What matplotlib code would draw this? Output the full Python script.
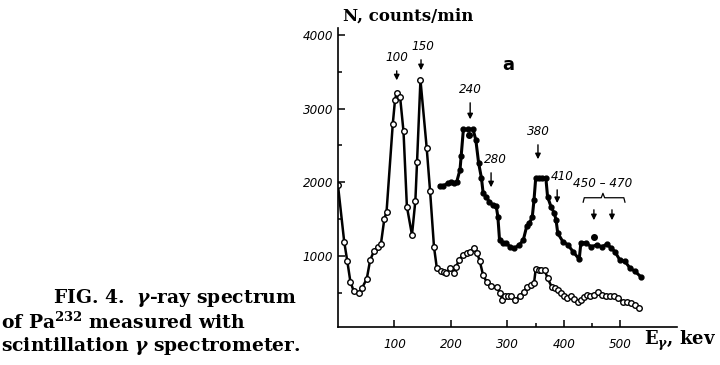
import numpy as np
import matplotlib.pyplot as plt
from matplotlib.ticker import FixedLocator

plt.rcParams['mathtext.fontset'] = 'custom'
plt.rcParams['mathtext.rm'] = 'DejaVu Serif:bold'
plt.rcParams['mathtext.it'] = 'DejaVu Serif:bold:italic'
plt.rcParams['mathtext.bf'] = 'DejaVu Serif:bold'

# lower curve (open circles), E in keV, N in counts/min
e_open = [0, 11, 16.5, 22, 28, 37, 43, 51, 57, 64, 70, 76, 82, 86,
          97, 101, 104, 110, 116, 122, 131, 137, 140, 146, 157, 163, 170,
          175, 182, 188, 192, 199, 205, 209, 214, 221, 228, 234, 240, 246,
          251, 257, 264, 270, 281, 287, 291, 296, 301, 307, 314, 322, 329,
          335, 341, 347, 350, 355, 360, 366, 371, 378, 384, 390, 395, 400,
          406, 412, 418, 424, 430, 435, 440, 446, 453, 461, 467, 474, 481,
          488, 496, 504, 511, 518, 526, 533]
n_open = [1960, 1195, 930, 650, 520, 500, 570, 690, 945, 1070, 1120, 1160, 1500, 1600,
          2790, 3120, 3215, 3155, 2690, 1670, 1285, 1750, 2280, 3390, 2470, 1885, 1120,
          835, 800, 785, 775, 835, 775, 845, 945, 1015, 1035, 1060, 1110, 1045,
          930, 735, 640, 590, 575, 495, 405, 455, 460, 450, 405, 460, 515,
          575, 605, 630, 820, 815, 810, 805, 700, 585, 560, 540, 495, 455,
          425, 460, 415, 380, 405, 440, 470, 450, 470, 515, 470, 455, 450,
          455, 425, 380, 380, 365, 335, 290]

# upper curve (filled dots)
e_fill = [180, 186, 194, 200, 205, 210, 216, 218, 222, 230, 239, 244, 249, 254,
          257, 262, 268, 274, 280, 283, 286, 292, 298, 305, 312, 321, 328,
          334, 339, 344, 347, 350, 356, 362, 368, 371, 377, 383, 386, 389,
          398, 407, 416, 427, 430, 439, 448, 458, 467, 476, 484, 490, 499,
          508, 517, 526, 537]
n_fill = [1950, 1950, 1985, 2000, 1985, 2000, 2170, 2350, 2720, 2720, 2720, 2575, 2260, 2055,
          1850, 1805, 1735, 1690, 1680, 1535, 1215, 1170, 1170, 1125, 1105, 1150, 1215,
          1400, 1445, 1535, 1760, 2055, 2060, 2060, 2055, 1805, 1670, 1580, 1490, 1310,
          1195, 1150, 1060, 955, 1180, 1180, 1125, 1150, 1125, 1160, 1105, 1060, 945,
          925, 835, 790, 710]
# stray dots off the line
e_extra = [232, 453]
n_extra = [2640, 1262]

# peak labels and arrow energies
peak_text = ['100', '150', '240', '280', '380', '410']
peak_e = [104, 147, 234, 271, 354, 388]
group_text = '450 – 470'
group_e = [453, 485]

# annotation layout (counts units / keV)
arrow_top = [3550, 3700, 3116, 2166, 2546, 1935]
arrow_bot = [3346, 3483, 2817, 1894, 2275, 1680]
label_dx = [0, 3, 0, 7, 0, 9]

fig = plt.figure(figsize=(7.2, 3.65), dpi=100)
ax = fig.add_axes([0.4694, 0.104, 0.4708, 0.8205])

ax.plot(e_open, n_open, '-o', color='black', lw=1.8, ms=4.0,
        mfc='white', mec='black', mew=1.0)
ax.plot(e_fill, n_fill, '-o', color='black', lw=2.2, ms=3.5)
ax.plot(e_extra, n_extra, 'o', color='black', ms=4)

tick_font = dict(family='DejaVu Sans', style='italic', size=9.5,
                 stretch='condensed')
arrow = dict(arrowstyle='-|>', color='black', lw=1.0, mutation_scale=8)
for t, e, top, bot, dx in zip(peak_text, peak_e, arrow_top, arrow_bot, label_dx):
    ax.annotate('', xy=(e, bot), xytext=(e, top), arrowprops=arrow)
    ax.text(e + dx, top + 55, t, ha='center', va='bottom', **tick_font)

for e in group_e:
    ax.annotate('', xy=(e, 1447), xytext=(e, 1664), arrowprops=arrow)

# curly brace over the 450-470 group
b0, b1, bm, by = 434, 508, 469, 1790
ax.plot([b0, b0 + 2, bm - 3, bm, bm + 3, b1 - 2, b1],
        [by - 60, by, by, by + 60, by, by, by - 60], color='black', lw=0.9)
ax.text(bm, 1900, group_text, ha='center', va='bottom', **tick_font)

ax.text(301, 3470, 'a', ha='center', va='bottom', fontsize=13,
        fontweight='bold', family='DejaVu Sans')

ax.set_xlim(0, 600)
ax.set_ylim(35, 4100)
for s in ['top', 'right']:
    ax.spines[s].set_visible(False)
ax.spines['left'].set_linewidth(1.2)
ax.spines['bottom'].set_linewidth(1.2)

ax.xaxis.set_major_locator(FixedLocator([100, 200, 300, 400, 500]))
ax.xaxis.set_minor_locator(FixedLocator([350, 450]))
ax.yaxis.set_major_locator(FixedLocator([1000, 2000, 3000, 4000]))
ax.yaxis.set_minor_locator(FixedLocator([500, 1500, 2500, 3500]))
ax.tick_params(which='both', direction='in', width=1.1)
ax.tick_params(which='major', length=5)
ax.tick_params(which='minor', length=3)
ax.tick_params(axis='x', pad=8)
for lab in ax.get_xticklabels() + ax.get_yticklabels():
    lab.set_fontstyle('italic')
    lab.set_fontsize(9.5)
    lab.set_fontstretch('condensed')

fig.text(0.477, 0.955, 'N, counts/min', fontsize=12, fontweight='bold',
         family='DejaVu Serif', ha='left', va='center')
fig.text(0.895, 0.066, r'E$_{\gamma}$, kev', fontsize=13, fontweight='bold',
         family='DejaVu Serif', ha='left', va='center')

cap = dict(fontsize=13.5, family='DejaVu Serif', fontweight='bold',
           ha='left', va='center')
fig.text(0.073, 0.183, r'FIG. 4.  $\it{\gamma}$-ray spectrum', **cap)
fig.text(0.002, 0.118, r'of Pa$^{232}$ measured with', **cap)
fig.text(0.002, 0.052, r'scintillation $\it{\gamma}$ spectrometer.', **cap)

fig.savefig('out.png', dpi=100)
